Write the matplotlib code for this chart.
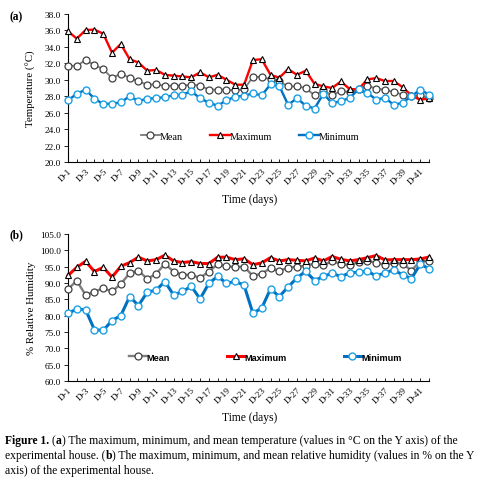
import matplotlib
matplotlib.use("Agg")
import matplotlib.pyplot as plt
import numpy as np
from matplotlib.ticker import MultipleLocator, FormatStrFormatter

# ---------------- data ----------------
days = [f"D-{i}" for i in range(1, 43)]

temp_mean = [31.7, 31.7, 32.4, 31.8, 31.3, 30.2, 30.75, 30.25, 29.8, 29.4,
             29.45, 29.25, 29.3, 29.3, 29.4, 29.3, 28.8, 28.8, 28.8, 28.7,
             28.85, 30.35, 30.35, 30.05, 29.8, 29.2, 29.2, 29.0, 28.1, 28.7,
             28.1, 28.65, 28.5, 28.85, 29.3, 28.9, 28.8, 28.5, 28.2, 28.0,
             28.1, 27.75]
temp_max = [35.9, 35.0, 36.05, 36.1, 35.6, 33.3, 34.35, 32.5, 32.1, 31.1,
            31.2, 30.6, 30.5, 30.4, 30.3, 30.9, 30.3, 30.6, 30.0, 29.4,
            29.4, 32.4, 32.5, 30.6, 30.25, 31.3, 30.6, 31.1, 29.5, 29.2,
            29.0, 29.8, 28.85, 28.85, 30.05, 30.2, 29.85, 29.85, 29.1, 28.1,
            27.55, 27.75]
temp_min = [27.5, 28.3, 28.8, 27.7, 27.05, 27.1, 27.25, 28.0, 27.4, 27.7,
            27.75, 27.9, 28.1, 28.2, 28.6, 27.75, 27.2, 26.85, 27.5, 27.95,
            28.05, 28.35, 28.1, 29.45, 29.25, 26.95, 27.75, 26.85, 26.5, 28.3,
            27.15, 27.4, 27.8, 28.85, 28.4, 27.6, 27.8, 26.95, 27.2, 28.0,
            28.8, 28.2]

rh_mean = [88.2, 90.65, 86.35, 87.3, 88.4, 87.4, 89.7, 93.0, 93.8, 91.25,
           92.8, 95.85, 93.5, 92.5, 92.5, 91.55, 93.5, 95.75, 95.1, 94.9,
           95.0, 92.15, 92.9, 94.5, 93.7, 94.7, 95.0, 95.3, 95.95, 95.4,
           96.75, 95.75, 95.55, 96.35, 96.75, 96.25, 95.55, 96.15, 95.95, 93.8,
           96.65, 96.75]
rh_max = [92.3, 94.8, 96.65, 93.5, 94.8, 91.8, 95.1, 96.25, 97.9, 96.75,
          97.15, 98.5, 96.75, 96.25, 96.55, 95.95, 95.95, 97.9, 97.9, 97.15,
          97.4, 95.6, 96.15, 97.75, 96.75, 97.15, 96.95, 96.75, 97.65, 96.75,
          98.1, 97.25, 96.75, 97.15, 97.75, 98.4, 97.05, 97.15, 97.15, 97.15,
          97.35, 97.95]
rh_min = [80.75, 82.0, 81.8, 75.7, 75.5, 78.5, 80.05, 85.85, 83.1, 87.2,
          87.8, 90.45, 86.3, 87.4, 89.0, 85.15, 89.9, 92.05, 89.9, 90.5,
          89.3, 80.75, 82.3, 88.2, 85.85, 88.8, 91.55, 93.6, 90.75, 92.0,
          93.0, 91.95, 93.1, 93.3, 93.6, 92.15, 93.1, 94.0, 92.5, 91.35,
          95.75, 94.4]

series_names = ["Mean", "Maximum", "Minimum"]

# ---------------- style ----------------
SERIF = ["Liberation Serif", "DejaVu Serif"]
SANS = ["Liberation Sans", "DejaVu Sans"]
plt.rcParams["font.family"] = SERIF

W, H = 482, 485
fig = plt.figure(figsize=(W / 100, H / 100), dpi=100)


def fx(px):
    return px / W


def fy(py):
    return 1 - py / H


styles = [
    dict(color="#7f7f7f", lw=1.5, marker="o", mfc="white", mec="#404040", ms=5.0, mew=0.9),
    dict(color="#ff0000", lw=1.9, marker="^", mfc="white", mec="#000000", ms=5.0, mew=0.8),
    dict(color="#0070c0", lw=1.9, marker="o", mfc="white", mec="#1ca0e6", ms=5.0, mew=1.0),
]

x = np.arange(1, len(days) + 1)


def make_panel(rect, data, ylim, ystep, ylabel, leg_y, leg_x, leg_font, colsp, lw_scale):
    ax = fig.add_axes(rect)
    for d, st, name in zip(data, styles, series_names):
        st2 = dict(st)
        st2["lw"] = st["lw"] * lw_scale
        ax.plot(x, d, label=name, clip_on=False, zorder=3, **st2)
    ax.set_xlim(1, len(days))
    ax.set_ylim(*ylim)
    ax.yaxis.set_major_locator(MultipleLocator(ystep))
    ax.yaxis.set_major_formatter(FormatStrFormatter("%.1f"))
    ax.set_xticks(x[::2])
    ax.set_xticklabels(days[::2], rotation=45, ha="right", va="top",
                       rotation_mode="anchor", fontsize=6.7)
    ax.set_xticks(x, minor=True)
    ax.tick_params(axis="x", which="both", direction="in", length=2.5, width=0.6, pad=3)
    ax.tick_params(axis="y", which="major", direction="out", length=3, width=0.6,
                   labelsize=6.7, pad=2)
    for s in ["top", "right"]:
        ax.spines[s].set_visible(False)
    for s in ["left", "bottom"]:
        ax.spines[s].set_linewidth(0.8)
    ax.set_ylabel(ylabel, fontsize=7.8)
    ax.legend(loc="center left", bbox_to_anchor=(leg_x, leg_y), ncol=3,
              frameon=False, handlelength=1.9, handletextpad=0.0,
              columnspacing=colsp, prop=leg_font, borderaxespad=0)
    return ax


ax1 = make_panel([fx(68), fy(163), fx(429) - fx(68), fy(15) - fy(163)],
                 [temp_mean, temp_max, temp_min], (20, 38), 2.0,
                 "Temperature (°C)", 0.176, 0.19,
                 dict(family=SERIF, size=7.3), 2.7, 0.9)
ax2 = make_panel([fx(68), fy(382), fx(429) - fx(68), fy(235) - fy(382)],
                 [rh_mean, rh_max, rh_min], (60, 105), 5.0,
                 "% Relative Humidity", 0.163, 0.16,
                 dict(family=SANS, size=6.6, weight="bold"), 6.2, 1.15)

ax1.yaxis.set_label_coords(-0.088, 0.5)
ax2.yaxis.set_label_coords(-0.088, 0.5)

fig.text(fx(10), fy(17), "(a)", fontsize=8.3, fontweight="bold", va="center", ha="left")
fig.text(fx(10), fy(235), "(b)", fontsize=8.3, fontweight="bold", va="center", ha="left")
fig.text(fx(250), fy(200), "Time (days)", fontsize=8.3, ha="center", va="center")
fig.text(fx(250), fy(418), "Time (days)", fontsize=8.3, ha="center", va="center")

# ---------------- caption with mixed bold ----------------
cap_lines = [
    [("Figure 1. ", "bold"), ("(", "normal"), ("a", "bold"),
     (") The maximum, minimum, and mean temperature (values in °C on the Y axis) of the", "normal")],
    [("experimental house. (", "normal"), ("b", "bold"),
     (") The maximum, minimum, and mean relative humidity (values in % on the Y", "normal")],
    [("axis) of the experimental house.", "normal")],
]
cap_y = [441, 456, 471]
renderer = fig.canvas.get_renderer()


def line_width(pieces, size):
    tw = 0
    for txt, wt in pieces:
        t = fig.text(0, 0, txt, fontsize=size, fontweight=wt, family=SERIF)
        tw += t.get_window_extent(renderer=renderer).width
        t.remove()
    return tw


base = 8.0
widest = max(line_width(p, base) for p in cap_lines[:2])
cap_size = base * 470 / widest

for pieces, py in zip(cap_lines, cap_y):
    xpos = fx(5)
    for txt, wt in pieces:
        t = fig.text(xpos, fy(py), txt, fontsize=cap_size, fontweight=wt,
                     family=SERIF, ha="left", va="center")
        bb = t.get_window_extent(renderer=renderer)
        xpos += bb.width / fig.bbox.width

fig.savefig("out.png", dpi=100)
